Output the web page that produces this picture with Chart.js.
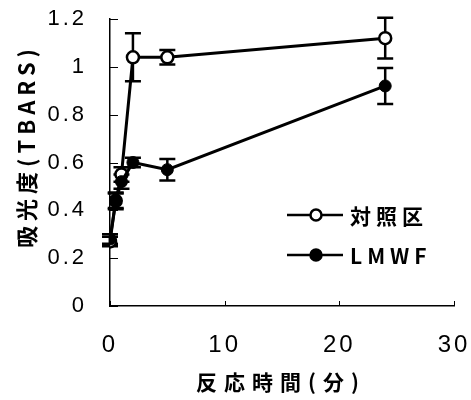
<!DOCTYPE html>
<html>
<head>
<meta charset="utf-8">
<script src="https://cdn.jsdelivr.net/npm/chart.js@4.4.1/dist/chart.umd.min.js"></script>
<style>
html,body{margin:0;padding:0;background:#fff;}
#wrap{position:relative;width:471px;height:400px;}
canvas{display:block;}
</style>
</head>
<body>
<div id="wrap"><canvas id="c" width="471" height="400"></canvas></div>
<script>
// ---- data ----
const timeMin        = [0, 0.5, 1, 2, 5, 24];
const controlValues  = [0.27, 0.44, 0.55, 1.04, 1.04, 1.12];
const controlErrors  = [0.02, 0.03, 0.03, 0.10, 0.03, 0.085];
const lmwfValues     = [0.28, 0.44, 0.52, 0.60, 0.57, 0.92];
const lmwfErrors     = [0.02, 0.035, 0.03, 0.02, 0.045, 0.075];
const seriesNames    = ['対照区', 'LMWF'];
const xTickValues    = [0, 10, 20, 30];
const yTickValues    = [0, 0.2, 0.4, 0.6, 0.8, 1, 1.2];
const xTitle         = '反応時間(分)';
const yTitle         = '吸光度(TBARS)';

const NUM_FONT = "'Liberation Sans',Arial,sans-serif";
const CJK_FONT = "'Noto Sans CJK JP','Noto Sans CJK SC',sans-serif";

function toPoints(xs, ys) { return xs.map((x, i) => ({x: x, y: ys[i]})); }

const errorBarPlugin = {
  id: 'errorBars',
  beforeDatasetsDraw(chart) {
    const ctx = chart.ctx, xs = chart.scales.x, ys = chart.scales.y;
    chart.data.datasets.forEach(ds => {
      const errs = ds.errors;
      ctx.save();
      ctx.strokeStyle = '#000';
      ctx.lineWidth = 2.5;
      ds.data.forEach((p, i) => {
        const px = xs.getPixelForValue(p.x);
        const top = ys.getPixelForValue(p.y + errs[i]);
        const bot = ys.getPixelForValue(p.y - errs[i]);
        ctx.beginPath();
        ctx.moveTo(px, top); ctx.lineTo(px, bot);
        ctx.moveTo(px - 8, top); ctx.lineTo(px + 8, top);
        ctx.moveTo(px - 8, bot); ctx.lineTo(px + 8, bot);
        ctx.stroke();
      });
      ctx.restore();
    });
  }
};

const decorPlugin = {
  id: 'decor',
  beforeDraw(chart) {
    chart.ctx.letterSpacing = '3px';
  },
  afterDraw(chart) {
    const ctx = chart.ctx, xs = chart.scales.x, ys = chart.scales.y;
    const area = chart.chartArea;
    ctx.save();
    ctx.strokeStyle = '#000';
    ctx.lineWidth = 1;
    yTickValues.forEach(v => {
      const py = Math.round(ys.getPixelForValue(v)) + 0.5;
      ctx.beginPath(); ctx.moveTo(area.left, py); ctx.lineTo(area.left + 8, py); ctx.stroke();
    });
    xTickValues.forEach(v => {
      const px = Math.round(xs.getPixelForValue(v)) + 0.5;
      ctx.beginPath(); ctx.moveTo(px, area.bottom); ctx.lineTo(px, area.bottom - 5); ctx.stroke();
    });
    ctx.fillStyle = '#000';
    ctx.textBaseline = 'middle';
    ctx.textAlign = 'center';
    ctx.font = 'bold 21px ' + CJK_FONT;
    ctx.letterSpacing = '7px';
    ctx.fillText(xTitle, 281, 382);
    ctx.save();
    ctx.translate(27, 149);
    ctx.rotate(-Math.PI / 2);
    ctx.font = 'bold 22px ' + CJK_FONT;
    ctx.letterSpacing = '5px';
    ctx.fillText(yTitle, 3, 0);
    ctx.restore();
    const rows = [{name: seriesNames[0], fill: '#fff', y: 215}, {name: seriesNames[1], fill: '#000', y: 255}];
    rows.forEach(r => {
      ctx.lineWidth = 2.5;
      ctx.beginPath(); ctx.moveTo(287, r.y); ctx.lineTo(343, r.y); ctx.stroke();
      ctx.beginPath(); ctx.arc(316, r.y, 5.5, 0, Math.PI * 2);
      ctx.fillStyle = r.fill; ctx.fill();
      ctx.lineWidth = 2.5; ctx.stroke();
      ctx.fillStyle = '#000';
      ctx.textAlign = 'left';
      ctx.letterSpacing = '5px';
      ctx.font = 'bold 21px ' + CJK_FONT;
      ctx.fillText(r.name, 350, r.y + 1);
    });
    ctx.restore();
  }
};

function zeroPad(scale) {
  scale.paddingTop = 0; scale.paddingBottom = 0;
  scale.paddingLeft = 0; scale.paddingRight = 0;
}

const chart = new Chart(document.getElementById('c'), {
  type: 'scatter',
  data: {
    datasets: [
      {
        label: seriesNames[1],
        data: toPoints(timeMin, lmwfValues),
        errors: lmwfErrors,
        showLine: true,
        borderColor: '#000',
        backgroundColor: '#000',
        borderWidth: 3,
        pointRadius: 6,
        pointBackgroundColor: '#000',
        pointBorderColor: '#000',
        pointBorderWidth: 1
      },
      {
        label: seriesNames[0],
        data: toPoints(timeMin, controlValues),
        errors: controlErrors,
        showLine: true,
        borderColor: '#000',
        backgroundColor: '#fff',
        borderWidth: 3,
        pointRadius: 6,
        pointBackgroundColor: '#fff',
        pointBorderColor: '#000',
        pointBorderWidth: 2.5
      }
    ]
  },
  options: {
    responsive: false,
    animation: false,
    devicePixelRatio: 1,
    layout: {padding: {left: 0, top: 19, right: 17, bottom: 0}},
    plugins: {legend: {display: false}, tooltip: {enabled: false}},
    scales: {
      x: {
        type: 'linear',
        min: 0, max: 30,
        afterFit(scale) { scale.height = 94; zeroPad(scale); },
        afterBuildTicks(scale) { scale.ticks = xTickValues.map(v => ({value: v})); },
        grid: {display: false, drawTicks: false},
        border: {display: true, color: '#000', width: 1.5},
        ticks: {color: '#000', padding: 25, maxRotation: 0, callback: v => String(v), font: {family: NUM_FONT, size: 24}}
      },
      y: {
        type: 'linear',
        min: 0, max: 1.2,
        afterFit(scale) { scale.width = 110; zeroPad(scale); },
        afterBuildTicks(scale) { scale.ticks = yTickValues.map(v => ({value: v})); },
        grid: {display: false, drawTicks: false},
        border: {display: true, color: '#000', width: 1.5},
        ticks: {color: '#000', padding: 23, callback: v => String(v), font: {family: NUM_FONT, size: 22}}
      }
    }
  },
  plugins: [errorBarPlugin, decorPlugin]
});
</script>
</body>
</html>
